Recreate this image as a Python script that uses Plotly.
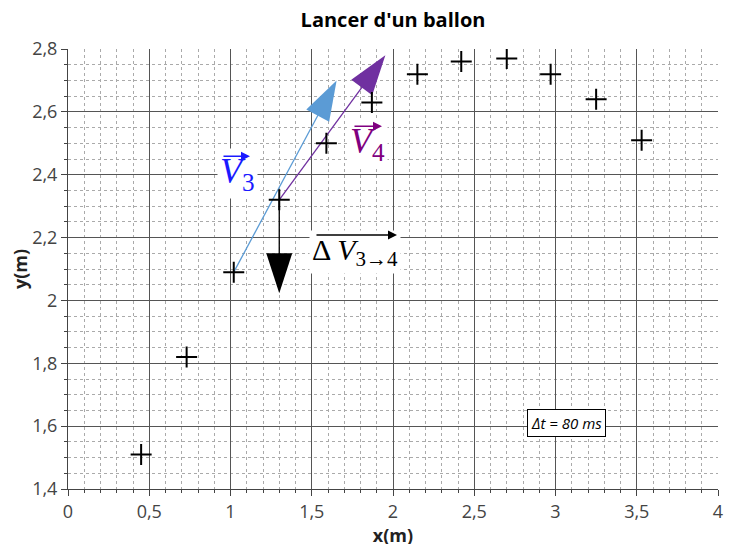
import plotly.graph_objects as go

# Measured positions of the ball (m)
x_pts = [0.45, 0.73, 1.02, 1.30, 1.59, 1.87, 2.15, 2.42, 2.70, 2.97, 3.25, 3.53]
y_pts = [1.51, 1.82, 2.09, 2.32, 2.50, 2.63, 2.72, 2.76, 2.77, 2.72, 2.64, 2.51]

# Vectors (start -> end, in data units)
v3_x = [1.02, 1.653]
v3_y = [2.09, 2.70]
v4_x = [1.30, 1.953]
v4_y = [2.32, 2.78]
dv_x = [1.30, 1.30]
dv_y = [2.32, 2.023]

# Label positions
v3_label = (1.04, 2.405)
v4_label = (1.846, 2.50)
dv_label = (1.766, 2.154)
dt_label = (3.068, 1.61)

x_ticks = [0, 0.5, 1, 1.5, 2, 2.5, 3, 3.5, 4]
y_ticks = [1.4, 1.6, 1.8, 2.0, 2.2, 2.4, 2.6, 2.8]

fig = go.Figure()

def vec(xs, ys, color):
    fig.add_trace(go.Scatter(
        x=xs, y=ys, mode="lines+markers",
        line=dict(color=color, width=1.3),
        marker=dict(symbol="arrow", size=[0, 42], angleref="previous", opacity=1,
                    color=color, line=dict(width=0)),
        hoverinfo="skip", showlegend=False))

vec(v3_x, v3_y, "#5b9bd5")
vec(v4_x, v4_y, "#7030a0")
vec(dv_x, dv_y, "#000000")

fig.add_trace(go.Scatter(
    x=x_pts, y=y_pts, mode="markers",
    marker=dict(symbol="cross-thin", size=15, line=dict(width=2, color="black")),
    showlegend=False, hoverinfo="x+y"))

serif = "Liberation Serif"

def label(pos, text, color, size, over_dx0, over_dx1, over_dy):
    fig.add_annotation(x=pos[0], y=pos[1], xref="x", yref="y", text=text,
                       showarrow=False, font=dict(family=serif, size=size, color=color),
                       bgcolor="white", borderpad=2)
    fig.add_annotation(x=pos[0], y=pos[1], xref="x", yref="y", text="",
                       xshift=over_dx1, yshift=over_dy,
                       showarrow=True, ax=over_dx0 - over_dx1, ay=0,
                       arrowhead=2, arrowsize=1.2, arrowwidth=1.5, arrowcolor=color)

label(v3_label, "<i>V</i><sub>3</sub>", "#1a1aff", 36, -15, 13, 17)
label(v4_label, "<i>V</i><sub>4</sub>", "#800080", 36, -15, 14, 17)
label(dv_label, "Δ <i>V</i><sub>3→4</sub>", "black", 30, -40, 42, 17)

fig.add_annotation(x=dt_label[0], y=dt_label[1], xref="x", yref="y",
                   text="<i>Δt = 80 ms</i>", showarrow=False,
                   font=dict(family="Open Sans", size=15, color="black"),
                   bgcolor="white", bordercolor="black", borderwidth=1, borderpad=3)

axis_common = dict(
    showline=True, linecolor="#444", linewidth=1,
    ticks="outside", ticklen=6, tickcolor="#444",
    showgrid=True, gridcolor="#555", gridwidth=1,
    zeroline=False, mirror=False,
    tickfont=dict(family="Open Sans", size=18, color="#444"),
)

fig.update_xaxes(
    range=[0, 4], tickvals=x_ticks, **axis_common,
    title=dict(text="<b>x(m)</b>", font=dict(family="Open Sans", size=18, color="#222"), standoff=4),
    minor=dict(dtick=0.1, tick0=0, showgrid=True, gridcolor="#aaa", griddash="dot",
               gridwidth=1, ticks="outside", ticklen=3, tickcolor="#444"),
)
fig.update_yaxes(
    range=[1.4, 2.8], tickvals=y_ticks, **axis_common,
    title=dict(text="<b>y(m)</b>", font=dict(family="Open Sans", size=18, color="#222"), standoff=4),
    minor=dict(dtick=0.05, tick0=1.4, showgrid=True, gridcolor="#aaa", griddash="dot",
               gridwidth=1, ticks="outside", ticklen=3, tickcolor="#444"),
)

fig.update_layout(
    width=734, height=544,
    margin=dict(l=60, r=24, t=41, b=63, autoexpand=False),
    paper_bgcolor="white", plot_bgcolor="white",
    separators=", ",
    title=dict(text="<b>Lancer d'un ballon</b>", x=0.5, xref="paper", y=0.978, yref="container",
               yanchor="middle", font=dict(family="Open Sans", size=20, color="black")),
    showlegend=False,
)

fig.write_html("out.html")
